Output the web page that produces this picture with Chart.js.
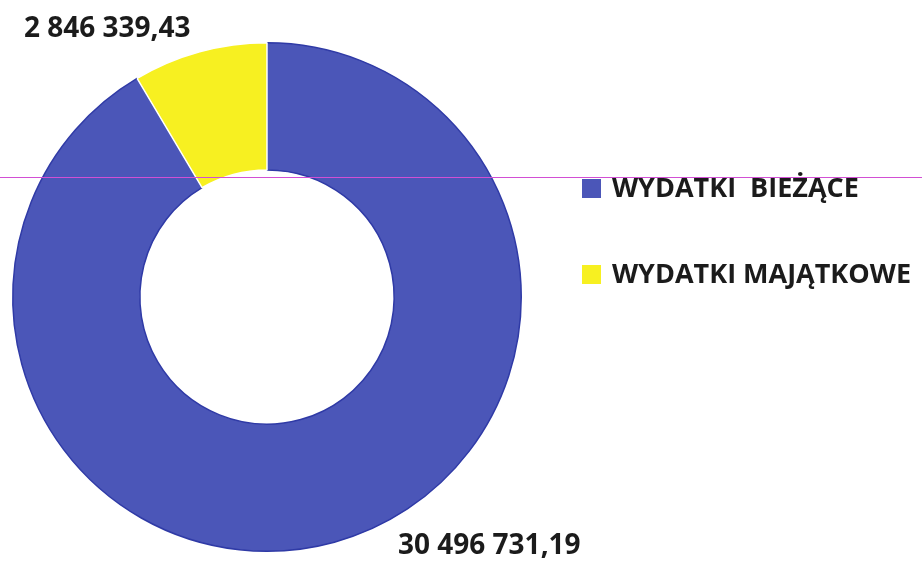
<!DOCTYPE html>
<html>
<head>
<meta charset="utf-8">
<script src="https://cdn.jsdelivr.net/npm/chart.js@4"></script>
<style>
  body { margin: 0; background: #fff; }
  #wrap { position: relative; width: 922px; height: 561px; overflow: hidden; font-family: "Open Sans", sans-serif; font-weight: bold; color: #1b1b1b; }
  canvas { position: absolute; left: 0; top: 0; }
  .val { position: absolute; font-size: 28px; line-height: 1; white-space: nowrap; }
  .leg { position: absolute; left: 582px; font-size: 27px; line-height: 1; white-space: pre; }
  .leg span { display: inline-block; width: 19px; height: 19px; margin-right: 11px; vertical-align: -1px; }
  #scanline { position: absolute; left: 0; top: 177px; width: 922px; height: 1px; background: #d24fd4; }
</style>
</head>
<body>
<div id="wrap">
  <canvas id="chartCanvas" width="922" height="561"></canvas>
  <div id="scanline"></div>
  <div class="val" id="lbl0" style="left:398px; top:529px;"></div>
  <div class="val" id="lbl1" style="left:24px; top:12px;"></div>
  <div class="leg" id="leg0" style="top:173px;"></div>
  <div class="leg" id="leg1" style="top:259px;"></div>
</div>
<script>
const categories = ["WYDATKI  BIEŻĄCE", "WYDATKI MAJĄTKOWE"];
const values = [30496731.19, 2846339.43];
const valueLabels = ["30 496 731,19", "2 846 339,43"];
const colors = ["#4b56b8", "#f7f021"];

categories.forEach((c, i) => {
  document.getElementById("leg" + i).innerHTML =
    `<span style="background:${colors[i]}"></span>${c}`;
  document.getElementById("lbl" + i).textContent = valueLabels[i];
});

const ctx = document.getElementById("chartCanvas").getContext("2d");
new Chart(ctx, {
  type: "doughnut",
  data: {
    labels: categories,
    datasets: [{
      data: values,
      backgroundColor: colors,
      borderColor: ["#2f3aa6", "#ffffff"],
      borderWidth: 1.5
    }]
  },
  options: {
    responsive: false,
    animation: false,
    cutout: "50%",
    layout: { padding: { left: 12, top: 42, right: 400, bottom: 9 } },
    plugins: {
      legend: { display: false },
      tooltip: { enabled: false }
    }
  }
});
</script>
</body>
</html>
